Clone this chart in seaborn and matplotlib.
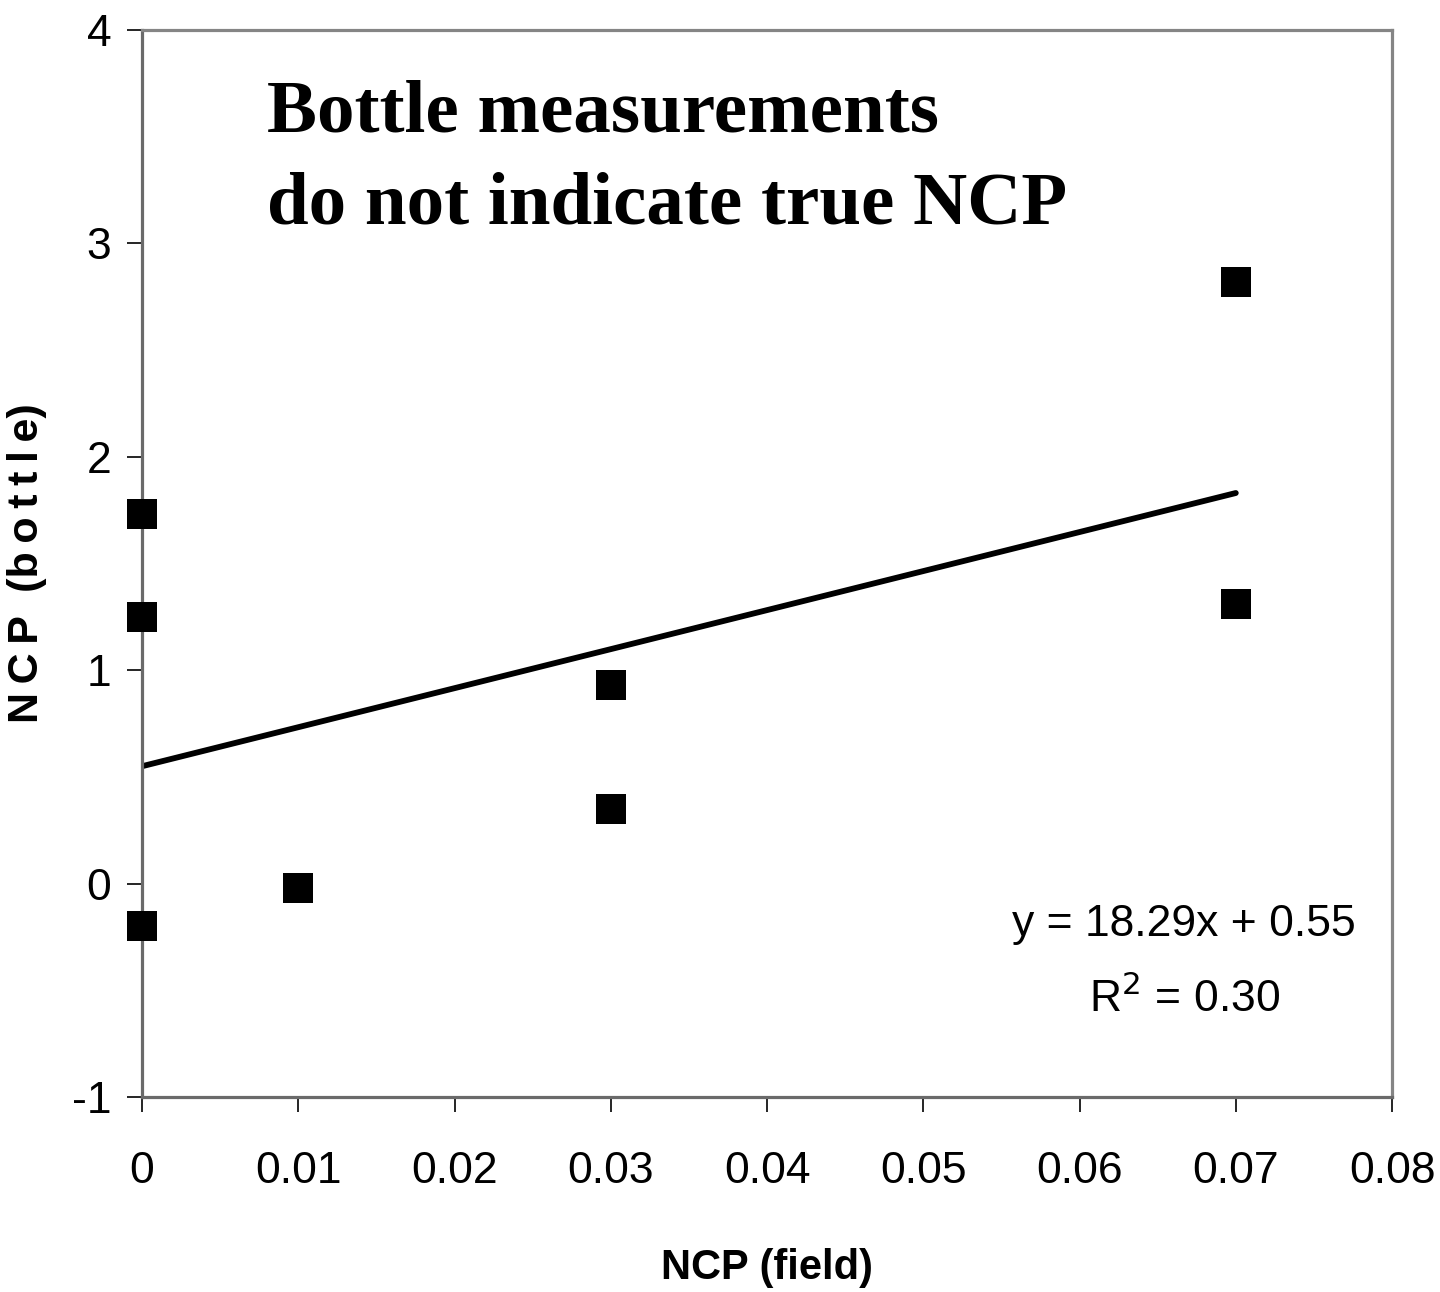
import numpy as np
import pandas as pd
import matplotlib
matplotlib.use("Agg")
import matplotlib.pyplot as plt
import seaborn as sns
from matplotlib import font_manager

ncp_field = [0.0, 0.0, 0.0, 0.01, 0.03, 0.03, 0.07, 0.07]
ncp_bottle = [1.73, 1.25, -0.20, -0.02, 0.93, 0.35, 2.82, 1.31]
slope = 18.29
intercept = 0.55
r2 = 0.30
x_ticks = [0, 0.01, 0.02, 0.03, 0.04, 0.05, 0.06, 0.07, 0.08]
x_tick_labels = ["0", "0.01", "0.02", "0.03", "0.04", "0.05", "0.06", "0.07", "0.08"]
y_ticks = [-1, 0, 1, 2, 3, 4]
y_tick_labels = ["-1", "0", "1", "2", "3", "4"]

sns.set_style("white")
names = {f.name for f in font_manager.fontManager.ttflist}
narrow = "Liberation Sans Narrow" if "Liberation Sans Narrow" in names else "Liberation Sans"
plt.rcParams["font.family"] = [narrow, "DejaVu Sans"]
plt.rcParams["text.color"] = "black"
plt.rcParams["axes.labelcolor"] = "black"
plt.rcParams["xtick.color"] = "black"
plt.rcParams["ytick.color"] = "black"

df = pd.DataFrame({"field": ncp_field, "bottle": ncp_bottle})
fit_x = np.array([min(ncp_field), max(ncp_field)])
fit = pd.DataFrame({"x": fit_x, "y": slope * fit_x + intercept})

fig = plt.figure(figsize=(14.4, 12.92), dpi=100)
ax = fig.add_axes([0.0986, 0.1509, 0.8681, 0.8259])

sns.lineplot(data=fit, x="x", y="y", ax=ax, color="black", linewidth=4.2, zorder=2)
sns.scatterplot(data=df, x="field", y="bottle", ax=ax, marker="s", s=470,
                color="black", edgecolor="black", linewidth=0, zorder=3, clip_on=False)

ax.set_xlim(0, 0.08)
ax.set_ylim(-1, 4)
ax.set_xticks(x_ticks)
ax.set_xticklabels(x_tick_labels)
ax.set_yticks(y_ticks)
ax.set_yticklabels(y_tick_labels)
ax.tick_params(axis="both", direction="out", length=11, width=1.2, color="black",
               labelsize=32, labelcolor="black", bottom=True, left=True)
ax.tick_params(axis="x", pad=28)
ax.tick_params(axis="y", pad=11)
for side in ["top", "right", "left", "bottom"]:
    ax.spines[side].set_visible(True)
    ax.spines[side].set_linewidth(2.3)
for side in ["top", "right"]:
    ax.spines[side].set_color("#858585")
for side in ["left", "bottom"]:
    ax.spines[side].set_color("#6a6a6a")

ax.set_xlabel("NCP (field)", fontsize=30, fontweight="bold", labelpad=40)
ts = "\u2009"
ylab = ts.join("NCP") + "  (" + ts.join("bottle") + ")"
ax.set_ylabel(ylab, fontsize=31, fontweight="bold", labelpad=18)

serif = ["Liberation Serif", "DejaVu Serif"]
ax.text(0.1, 0.9044, "Bottle measurements", transform=ax.transAxes,
        fontsize=54, fontweight="bold", family=serif, ha="left", va="baseline")
ax.text(0.1, 0.8191, "do not indicate true NCP", transform=ax.transAxes,
        fontsize=54, fontweight="bold", family=serif, ha="left", va="baseline")

ax.text(0.0667, -0.19, f"y = {slope:.2f}x + {intercept:.2f}", fontsize=32, ha="center", va="center")
ax.text(0.0667, -0.54, f"R$^2$ = {r2:.2f}", fontsize=32, ha="center", va="center")

fig.savefig("out.png", dpi=100)
